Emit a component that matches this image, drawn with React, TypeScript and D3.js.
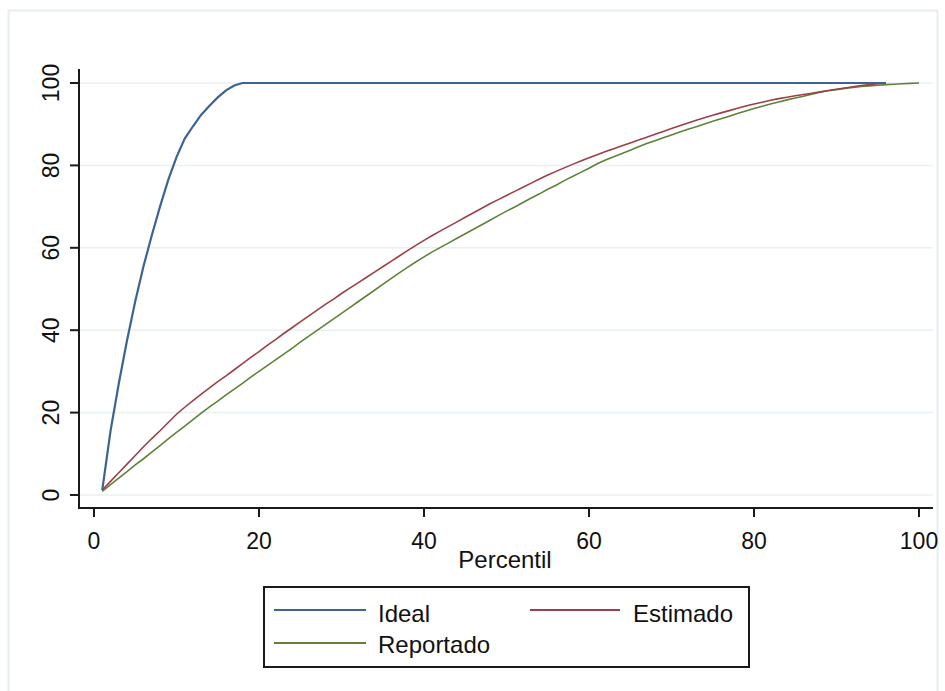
import React from "react";
import * as d3 from "d3";

const xTicks = [0, 20, 40, 60, 80, 100];
const yTicks = [0, 20, 40, 60, 80, 100];

const idealX = [1, 2, 3, 4, 5, 6, 7, 8, 9, 10, 11, 12, 13, 14, 15, 16, 17, 18, 96];
const idealY = [1.2, 15.5, 27, 37.5, 47, 55.5, 63, 70, 76.5, 82, 86.5, 89.5, 92.3, 94.5, 96.5, 98.2, 99.4, 100, 100];

const estimadoY = [
  1.2, 3.3, 5.4, 7.5, 9.6, 11.7, 13.7, 15.6, 17.6, 19.6,
  21.3, 22.9, 24.5, 26.0, 27.5, 28.9, 30.4, 31.9, 33.4, 34.8,
  36.3, 37.7, 39.2, 40.6, 42.0, 43.4, 44.8, 46.2, 47.5, 48.9,
  50.2, 51.5, 52.8, 54.1, 55.4, 56.7, 58.0, 59.3, 60.6, 61.8,
  63.0, 64.1, 65.2, 66.3, 67.4, 68.5, 69.6, 70.7, 71.7, 72.7,
  73.7, 74.7, 75.7, 76.7, 77.65, 78.55, 79.4, 80.25, 81.05, 81.85,
  82.6, 83.35, 84.05, 84.75, 85.45, 86.15, 86.85, 87.55, 88.25, 88.95,
  89.65, 90.3, 90.95, 91.55, 92.15, 92.75, 93.3, 93.85, 94.4, 94.9,
  95.35, 95.8, 96.2, 96.55, 96.9, 97.2, 97.5, 97.85, 98.2, 98.5,
  98.8, 99.1, 99.4, 99.6, 99.8, 100,
];

const reportadoY = [
  0.9, 2.5, 4.1, 5.7, 7.3, 8.8, 10.4, 12.0, 13.6, 15.2,
  16.7, 18.3, 19.9, 21.4, 22.8, 24.3, 25.7, 27.1, 28.6, 30.0,
  31.4, 32.8, 34.2, 35.6, 37.1, 38.5, 39.9, 41.3, 42.7, 44.1,
  45.5, 46.9, 48.3, 49.7, 51.1, 52.5, 53.9, 55.25, 56.55, 57.8,
  59.0, 60.1, 61.2, 62.3, 63.4, 64.5, 65.6, 66.7, 67.8, 68.9,
  69.9, 71.0, 72.1, 73.1, 74.2, 75.2, 76.3, 77.3, 78.3, 79.3,
  80.4, 81.3, 82.1, 82.9, 83.7, 84.5, 85.3, 86.0, 86.7, 87.4,
  88.1, 88.75, 89.4, 90.05, 90.7, 91.3, 91.95, 92.6, 93.2, 93.8,
  94.35, 94.9, 95.4, 95.9, 96.35, 96.8, 97.3, 97.75, 98.1, 98.4,
  98.7, 98.9, 99.15, 99.3, 99.45, 99.6, 99.7, 99.8, 99.9, 100,
];

const seriesNames = ["Ideal", "Estimado", "Reportado"];
const seriesColors = ["#3b6590", "#9c3f48", "#5f8238"];

const FONT = "'Liberation Sans', Arial, sans-serif";

export default function App() {
  const x = d3.scaleLinear().domain([0, 100]).range([94, 919]);
  const y = d3.scaleLinear().domain([0, 100]).range([495, 83]);
  const line = d3
    .line<[number, number]>()
    .x((d) => x(d[0]))
    .y((d) => y(d[1]));

  const idealPts: [number, number][] = idealX.map((v, i) => [v, idealY[i]]);
  const estPts: [number, number][] = estimadoY.map((v, i) => [i + 1, v]);
  const repPts: [number, number][] = reportadoY.map((v, i) => [i + 1, v]);

  const axisLeft = 79;
  const axisBottom = 508;
  const axisTop = 69;
  const axisRight = 933;

  return (
    <svg
      width={945}
      height={691}
      style={{ position: "absolute", left: 0, top: 0, background: "#fff" }}
      fontFamily={FONT}
    >
      <rect x={0} y={0} width={945} height={691} fill="#fff" />
      <rect x={8.5} y={10.5} width={929} height={690} fill="none" stroke="#e6eef1" strokeWidth={2} />

      {/* gridlines */}
      {yTicks.map((t) => (
        <line key={"g" + t} x1={axisLeft} x2={axisRight} y1={y(t)} y2={y(t)} stroke="#e8f0f3" strokeWidth={1.5} />
      ))}

      {/* series */}
      <path d={line(repPts) || ""} fill="none" stroke={seriesColors[2]} strokeWidth={1.6} />
      <path d={line(estPts) || ""} fill="none" stroke={seriesColors[1]} strokeWidth={1.6} />
      <path d={line(idealPts) || ""} fill="none" stroke={seriesColors[0]} strokeWidth={2.2} />

      {/* axes */}
      <line x1={axisLeft} x2={axisLeft} y1={axisTop} y2={axisBottom + 1} stroke="#1a1a1a" strokeWidth={2} />
      <line x1={axisLeft - 1} x2={axisRight} y1={axisBottom} y2={axisBottom} stroke="#1a1a1a" strokeWidth={2} />
      {yTicks.map((t) => (
        <g key={"yt" + t}>
          <line x1={axisLeft - 9} x2={axisLeft} y1={y(t)} y2={y(t)} stroke="#1a1a1a" strokeWidth={2} />
          <text
            transform={`translate(59,${y(t)}) rotate(-90)`}
            textAnchor="middle"
            fontSize={23}
            fill="#111"
          >
            {t}
          </text>
        </g>
      ))}
      {xTicks.map((t) => (
        <g key={"xt" + t}>
          <line x1={x(t)} x2={x(t)} y1={axisBottom} y2={axisBottom + 9} stroke="#1a1a1a" strokeWidth={2} />
          <text x={x(t)} y={548.5} textAnchor="middle" fontSize={23} fill="#111">
            {t}
          </text>
        </g>
      ))}
      <text x={505} y={568} textAnchor="middle" fontSize={24} fill="#111">
        Percentil
      </text>

      {/* legend */}
      <rect x={264} y={587} width={485} height={80} fill="#fff" stroke="#1a1a1a" strokeWidth={2} />
      <line x1={274} x2={366} y1={610} y2={610} stroke={seriesColors[0]} strokeWidth={2} />
      <text x={378} y={622} fontSize={24} fill="#111">{seriesNames[0]}</text>
      <line x1={530} x2={620} y1={610} y2={610} stroke={seriesColors[1]} strokeWidth={2} />
      <text x={633} y={622} fontSize={24} fill="#111">{seriesNames[1]}</text>
      <line x1={274} x2={366} y1={643} y2={643} stroke={seriesColors[2]} strokeWidth={2} />
      <text x={378} y={653} fontSize={24} fill="#111">{seriesNames[2]}</text>
    </svg>
  );
}
